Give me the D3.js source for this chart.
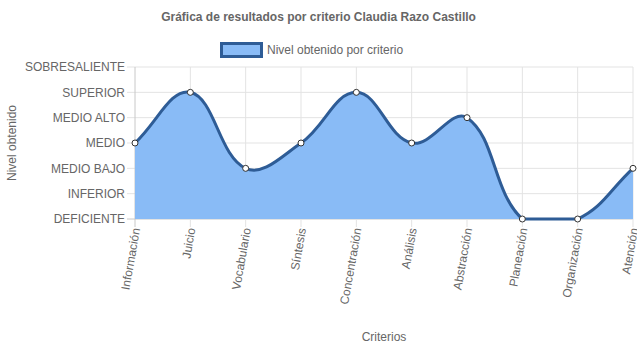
<!DOCTYPE html>
<html>
<head>
<meta charset="utf-8">
<script src="https://cdn.jsdelivr.net/npm/d3@7"></script>
<style>
    body { margin: 0; background: #fff; }
    svg { display: block; font-family: "Liberation Sans", Arial, Helvetica, sans-serif; }
</style>
</head>
<body>
<div id="chart-container"></div>
<script>
var criterios = ['Información', 'Juicio', 'Vocabulario', 'Síntesis', 'Concentración',
                 'Análisis', 'Abstracción', 'Planeación', 'Organización', 'Atención'];
var niveles = ['DEFICIENTE', 'INFERIOR', 'MEDIO BAJO', 'MEDIO', 'MEDIO ALTO', 'SUPERIOR', 'SOBRESALIENTE'];
var valores = [3, 5, 2, 3, 5, 3, 4, 0, 0, 2];

var titulo = 'Gráfica de resultados por criterio Claudia Razo Castillo';
var leyenda = 'Nivel obtenido por criterio';

function displayChart() {
    const width = 637;
    const height = 348;
    const left = 135, right = 633, top = 67, bottom = 219;
    const lineColor = '#2e5c96';
    const fillColor = '#89bbf6';
    const gridColor = '#e3e3e3';
    const textColor = '#666';

    const xScale = d3.scalePoint()
        .domain(criterios)
        .range([left, right]);
    const yScale = d3.scaleLinear()
        .domain([0, niveles.length - 1])
        .range([bottom, top]);

    var svg = d3.select('#chart-container')
        .append('svg')
        .attr('width', width)
        .attr('height', height);

    // grid
    svg.append('g')
        .selectAll('line')
        .data(d3.range(niveles.length))
        .enter()
        .append('line')
        .attr('x1', left - 8).attr('x2', right)
        .attr('y1', (d) => yScale(d)).attr('y2', (d) => yScale(d))
        .attr('stroke', (d) => d == 0 ? '#c8c8c8' : gridColor);

    svg.append('g')
        .selectAll('line')
        .data(criterios)
        .enter()
        .append('line')
        .attr('x1', (d) => xScale(d)).attr('x2', (d) => xScale(d))
        .attr('y1', top).attr('y2', bottom + 8)
        .attr('stroke', (d, i) => i == 0 ? '#c8c8c8' : gridColor);

    // y tick labels
    svg.append('g')
        .selectAll('text')
        .data(niveles)
        .enter()
        .append('text')
        .attr('x', left - 10)
        .attr('y', (d, i) => yScale(i))
        .attr('dy', '0.35em')
        .attr('text-anchor', 'end')
        .attr('font-size', 12)
        .attr('fill', textColor)
        .text((d) => d);

    // x tick labels
    svg.append('g')
        .selectAll('text')
        .data(criterios)
        .enter()
        .append('text')
        .attr('transform', (d) => 'translate(' + (xScale(d) + 1) + ',' + (bottom + 9) + ') rotate(-80)')
        .attr('dy', '0.35em')
        .attr('text-anchor', 'end')
        .attr('font-size', 12)
        .attr('fill', textColor)
        .text((d) => d);

    // spline like chart.js (tension 0.4, capped inside the chart area)
    var pts = valores.map((v, i) => ({ x: xScale(criterios[i]), y: yScale(v) }));
    var tension = 0.4;
    pts.forEach(function(p, i) {
        var prev = pts[i - 1] || p;
        var next = pts[i + 1] || p;
        var d01 = Math.hypot(p.x - prev.x, p.y - prev.y);
        var d12 = Math.hypot(next.x - p.x, next.y - p.y);
        var s01 = d01 / (d01 + d12) || 0;
        var s12 = d12 / (d01 + d12) || 0;
        var fa = tension * s01, fb = tension * s12;
        p.cpPrevX = p.x - fa * (next.x - prev.x);
        p.cpPrevY = Math.max(top, Math.min(bottom, p.y - fa * (next.y - prev.y)));
        p.cpNextX = p.x + fb * (next.x - prev.x);
        p.cpNextY = Math.max(top, Math.min(bottom, p.y + fb * (next.y - prev.y)));
    });
    var linePath = 'M' + pts[0].x + ',' + pts[0].y;
    for (var i = 1; i < pts.length; i++) {
        linePath += 'C' + pts[i - 1].cpNextX + ',' + pts[i - 1].cpNextY + ' ' +
                    pts[i].cpPrevX + ',' + pts[i].cpPrevY + ' ' + pts[i].x + ',' + pts[i].y;
    }
    var areaPath = linePath + 'L' + pts[pts.length - 1].x + ',' + bottom + 'L' + pts[0].x + ',' + bottom + 'Z';

    svg.append('path')
        .attr('d', areaPath)
        .attr('fill', fillColor);
    svg.append('path')
        .attr('d', linePath)
        .attr('fill', 'none')
        .attr('stroke', lineColor)
        .attr('stroke-width', 3);

    svg.append('g')
        .selectAll('circle')
        .data(pts)
        .enter()
        .append('circle')
        .attr('cx', (p) => p.x)
        .attr('cy', (p) => p.y)
        .attr('r', 3)
        .attr('fill', '#fff')
        .attr('stroke', '#333')
        .attr('stroke-width', 1);

    // title
    svg.append('text')
        .attr('x', width / 2)
        .attr('y', 17)
        .attr('dy', '0.35em')
        .attr('text-anchor', 'middle')
        .attr('font-size', 12)
        .attr('font-weight', 'bold')
        .attr('fill', textColor)
        .text(titulo);

    // legend
    svg.append('rect')
        .attr('x', 221.5).attr('y', 43.5)
        .attr('width', 40).attr('height', 13)
        .attr('fill', fillColor)
        .attr('stroke', lineColor)
        .attr('stroke-width', 3);
    svg.append('text')
        .attr('x', 267)
        .attr('y', 50)
        .attr('dy', '0.35em')
        .attr('font-size', 12)
        .attr('fill', textColor)
        .text(leyenda);

    // axis titles
    svg.append('text')
        .attr('transform', 'translate(12,' + ((top + bottom) / 2) + ') rotate(-90)')
        .attr('dy', '0.35em')
        .attr('text-anchor', 'middle')
        .attr('font-size', 12)
        .attr('fill', textColor)
        .text('Nivel obtenido');
    svg.append('text')
        .attr('x', (left + right) / 2)
        .attr('y', 337)
        .attr('dy', '0.35em')
        .attr('text-anchor', 'middle')
        .attr('font-size', 12)
        .attr('fill', textColor)
        .text('Criterios');
}

displayChart();
</script>
</body>
</html>
